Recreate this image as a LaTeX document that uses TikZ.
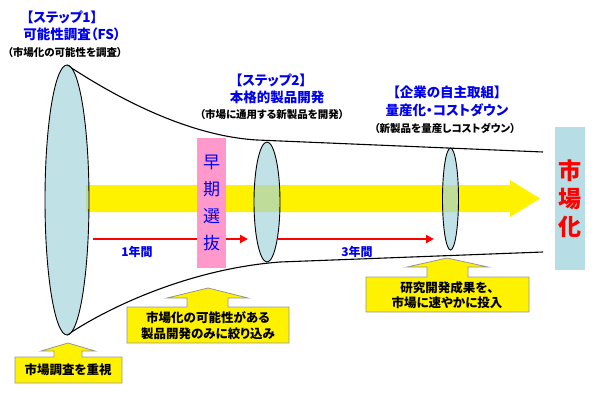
\documentclass[tikz,border=0pt]{standalone}
\usepackage{fontspec}
\setmainfont{Noto Sans CJK JP}[RawFeature=+palt]
\usepackage{xcolor}
\usetikzlibrary{shapes.geometric,positioning,arrows.meta}

\definecolor{lensblue}{RGB}{165,212,220}
\definecolor{boxblue}{RGB}{183,222,228}
\definecolor{selpink}{RGB}{255,153,204}
\definecolor{tblue}{RGB}{0,0,240}
\definecolor{callgray}{RGB}{150,150,150}

\tikzset{
  lens/.style={ellipse, draw=black, line width=0.9pt, fill=lensblue, fill opacity=0.7, inner sep=0pt},
  ttl/.style={inner sep=0pt, text=tblue, font=\bfseries\fontsize{13.5}{14}\selectfont},
  subttl/.style={inner sep=0pt, font=\bfseries\fontsize{10.5}{11}\selectfont},
  calltext/.style={inner sep=0pt, align=center, font=\bfseries\fontsize{12.5}{15.5}\selectfont},
  callout/.style={draw=callgray, fill=yellow, line width=0.8pt},
  redarrow/.style={red, line width=2pt, -{Triangle[length=8pt,width=8pt]}},
  yearlbl/.style={inner sep=0pt, text=tblue, font=\bfseries\fontsize{12}{12}\selectfont}
}

\begin{document}
\begin{tikzpicture}[x=1pt, y=-1pt]
  \useasboundingbox (0,0) rectangle (595,400);

  % Funnel outline
  \draw[line width=1.1pt] (67,65) .. controls (120,100) and (190,136) .. (257,140) -- (543,152);
  \draw[line width=1.1pt] (67,335) .. controls (120,300) and (200,268) .. (280,262) -- (543,252);

  % Big yellow arrow towards the market
  \fill[yellow] (86,185) -- (510,185) -- (510,180) -- (540,198.5) -- (510,217) -- (510,212) -- (86,212) -- cycle;

  % Period arrows
  \coordinate (r1s) at (93,239);
  \coordinate (r1e) at (248,239);
  \coordinate (r2s) at (278,239);
  \coordinate (r2e) at (434,239);
  \draw[redarrow] (r1s) -- (r1e);
  \draw[redarrow] (r2s) -- (r2e);
  \node[yearlbl] (y1) at (137,252) {1年間};
  \node[yearlbl] (y3) at (357,252) {3年間};

  % Early selection
  \node[fill=selpink, minimum width=29pt, minimum height=130pt, inner sep=0pt, align=center,
        text=tblue, font=\fontsize{17}{27}\selectfont] (select) at (211.5,203) {早\\期\\選\\抜};

  % Lenses (stages)
  \node[lens, minimum width=44pt, minimum height=270pt] (lensA) at (67,200) {};
  \node[lens, minimum width=26pt, minimum height=120pt] (lensB) at (267,202) {};
  \node[lens, minimum width=16pt, minimum height=102pt] (lensC) at (450.5,199) {};

  % Market
  \node[fill=boxblue, minimum width=30pt, minimum height=143pt, inner sep=0pt, align=center,
        text=red, font=\bfseries\fontsize{23}{28}\selectfont] (market) at (570,198.5) {市\\場\\化};

  % Stage titles
  \node[ttl] (s1a) at (62,17) {【ステップ1】};
  \node[ttl] (s1b) at (72,34) {可能性調査（FS）};
  \node[subttl] (s1c) at (65,53) {（市場化の可能性を調査）};

  \node[ttl] (s2a) at (271,80) {【ステップ2】};
  \node[ttl] (s2b) at (277,97) {本格的製品開発};
  \node[subttl] (s2c) at (272,115) {（市場に通用する新製品を開発）};

  \node[ttl] (s3a) at (447,92) {【企業の自主取組】};
  \node[ttl] (s3b) at (447,110) {量産化・コストダウン};
  \node[subttl] (s3c) at (445,128) {（新製品を量産しコストダウン）};

  % Callouts
  \draw[callout] (15,357) -- (54,357) -- (54,351) -- (41,351) -- (68,343) -- (95,351) -- (82,351)
    -- (82,357) -- (122,357) -- (122,383) -- (15,383) -- cycle;
  \node[calltext] (c1) at (68,370) {市場調査を重視};

  \draw[callout] (127,307) -- (187,307) -- (187,298) -- (167,298) -- (208,288) -- (248,298) -- (228,298)
    -- (228,307) -- (289,307) -- (289,343) -- (127,343) -- cycle;
  \node[calltext] (c2) at (208,325.5) {市場化の可能性がある\\製品開発のみに絞り込み};

  \draw[callout] (366,277) -- (427,277) -- (427,267) -- (407,267) -- (447,258) -- (488,267) -- (468,267)
    -- (468,277) -- (529,277) -- (529,312) -- (366,312) -- cycle;
  \node[calltext] (c3) at (447,295) {研究開発成果を、\\市場に速やかに投入};
\end{tikzpicture}
\end{document}
